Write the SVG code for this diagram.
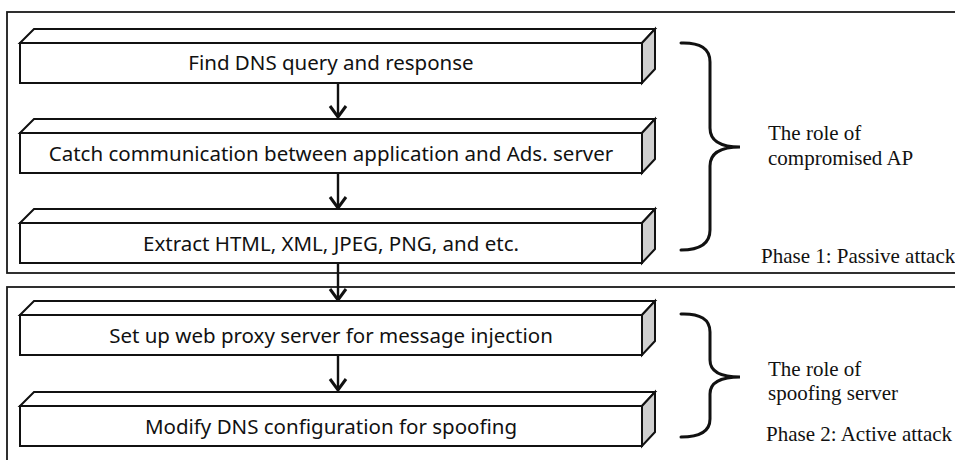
<svg xmlns="http://www.w3.org/2000/svg" width="955" height="460" viewBox="0 0 955 460">
  <defs>
    <style>
      .frame { fill: none; stroke: #1a1a1a; stroke-width: 1.8; }
      .face { fill: #ffffff; stroke: #111111; stroke-width: 2; stroke-linejoin: miter; }
      .side { fill: #d0d0d0; stroke: #111111; stroke-width: 2; stroke-linejoin: miter; }
      .label { font-family: "Noto Sans", "Open Sans", sans-serif; font-size: 20.5px; fill: #111111; text-anchor: middle; }
      .note { font-family: "Liberation Serif", "Times New Roman", serif; font-size: 21px; fill: #111111; }
      .brace { fill: none; stroke: #111111; stroke-width: 3; stroke-linecap: round; }
      .link { fill: none; stroke: #111111; stroke-width: 2.4; }
      .head { fill: none; stroke: #111111; stroke-width: 3; stroke-linejoin: miter; }
    </style>
    <!-- one 3D step block; front face 622x40 at the origin -->
    <g id="block">
      <polygon class="face" points="0,14 14,0 635,0 622,14"/>
      <polygon class="side" points="622,14 635,0 635,40 622,54"/>
      <rect class="face" x="0" y="14" width="622" height="40"/>
    </g>
  </defs>

  <rect width="955" height="460" fill="#ffffff"/>

  <!-- phase frames -->
  <g id="phase1-frame">
    <rect class="frame" x="7" y="12" width="960" height="261"/>
  </g>
  <g id="phase2-frame">
    <rect class="frame" x="7" y="287" width="960" height="200"/>
  </g>

  <!-- connectors -->
  <g id="connectors">
    <line class="link" x1="338" y1="83" x2="338" y2="117"/>
    <polyline class="head" points="330,106 338,117 346,106"/>
    <line class="link" x1="338" y1="174" x2="338" y2="208"/>
    <polyline class="head" points="330,197 338,208 346,197"/>
    <line class="link" x1="338" y1="264" x2="338" y2="300"/>
    <polyline class="head" points="330,289 338,300 346,289"/>
    <line class="link" x1="338" y1="356" x2="338" y2="390"/>
    <polyline class="head" points="330,379 338,390 346,379"/>
  </g>

  <g id="step1">
    <use href="#block" x="20" y="29"/>
    <text class="label" x="331" y="70">Find DNS query and response</text>
  </g>
  <g id="step2">
    <use href="#block" x="20" y="119"/>
    <text class="label" x="331" y="161">Catch communication between application and Ads. server</text>
  </g>
  <g id="step3">
    <use href="#block" x="20" y="209"/>
    <text class="label" x="331" y="251">Extract HTML, XML, JPEG, PNG, and etc.</text>
  </g>
  <g id="step4">
    <use href="#block" x="20" y="301"/>
    <text class="label" x="331" y="343">Set up web proxy server for message injection</text>
  </g>
  <g id="step5">
    <use href="#block" x="20" y="392"/>
    <text class="label" x="331" y="434">Modify DNS configuration for spoofing</text>
  </g>

  <!-- role braces and notes -->
  <g id="role1">
    <path class="brace" d="M681,43 Q710,42 710,62 L710,128 Q710,147 740,147 Q710,147 710,166 L710,230 Q710,250 681,250"/>
    <text class="note" x="768" y="140">The role of</text>
    <text class="note" x="768" y="165">compromised AP</text>
  </g>
  <g id="role2">
    <path class="brace" d="M681,314 Q710,313 710,332 L710,360 Q710,377 740,377 Q710,377 710,394 L710,419 Q710,437 681,437"/>
    <text class="note" x="768" y="376">The role of</text>
    <text class="note" x="768" y="400">spoofing server</text>
  </g>
  <g id="phase-labels">
    <text class="note" x="761" y="263">Phase 1: Passive attack</text>
    <text class="note" x="766" y="441">Phase 2: Active attack</text>
  </g>
</svg>
